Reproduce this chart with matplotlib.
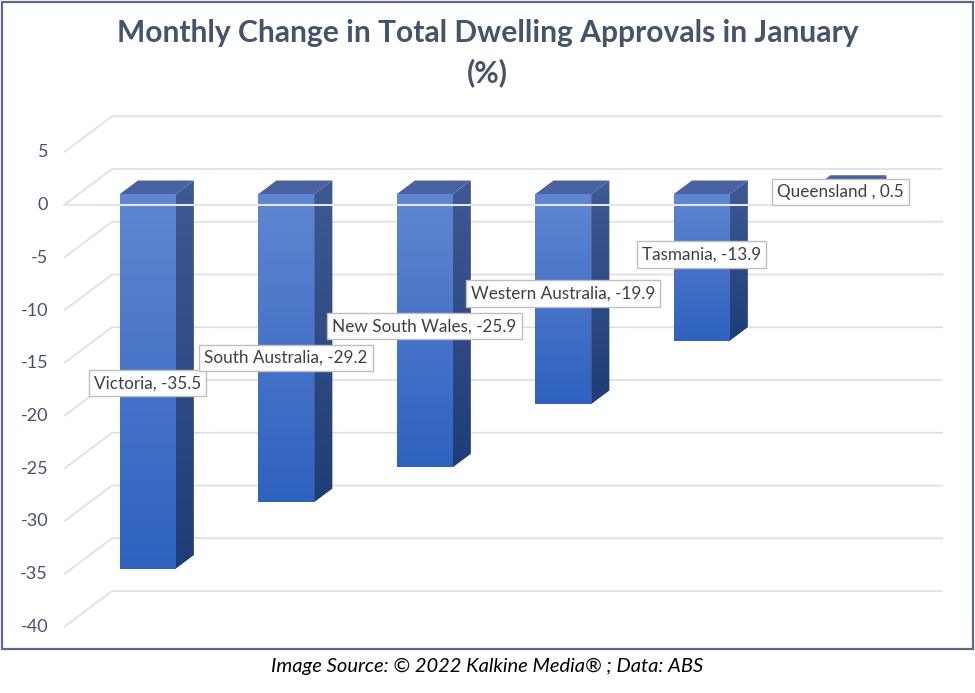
import numpy as np
import matplotlib
matplotlib.use("Agg")
import matplotlib.pyplot as plt
from matplotlib.patches import Polygon, Rectangle
from matplotlib.colors import LinearSegmentedColormap

plt.rcParams['font.family'] = ['Lato', 'DejaVu Sans']

states = ["Victoria", "South Australia", "New South Wales",
          "Western Australia", "Tasmania", "Queensland "]
change = [-35.5, -29.2, -25.9, -19.9, -13.9, 0.5]
yticks = list(range(-40, 6, 5))
label_y = [-16.9, -14.5, -11.5, -8.4, -4.7, 1.2]   # label box centres (manual placement)

W, H = 975, 693
px_cat, px_val = 138.5, 10.55        # pixels per category / per unit
x0_px, y0_px = 64, 205               # pixel position of category 0 / value 0
depth_x, depth_y = 48 / px_cat, 36 / px_val
f_front, f_back = 0.30, 0.68
bar_w = 0.404

fig = plt.figure(figsize=(W / 100, H / 100), dpi=100)
ax = fig.add_axes([0, 0, 1, 1])
ax.set_xlim(-x0_px / px_cat, (W - x0_px) / px_cat)
ax.set_ylim(-(H - y0_px) / px_val, y0_px / px_val)
ax.axis("off")

# gridlines: diagonal on the side wall then across the back wall
x_back_end = len(states) + depth_x
for t in yticks:
    ax.plot([0, depth_x, x_back_end], [t, t + depth_y, t + depth_y],
            color="#DCE0E8", lw=1.3, zorder=1, solid_capstyle="butt")
    ax.text(-0.115, t, str(t), ha="right", va="center", fontsize=13,
            color="#44546A")


def grad_fill(poly_xy, c_top, c_bot, z):
    poly = Polygon(poly_xy, closed=True, facecolor="none", edgecolor="none")
    ax.add_patch(poly)
    xs, ys = poly_xy[:, 0], poly_xy[:, 1]
    cmap = LinearSegmentedColormap.from_list("g", [c_bot, c_top])
    grad = np.linspace(1, 0, 64).reshape(-1, 1)
    im = ax.imshow(grad, cmap=cmap, aspect="auto", zorder=z,
                   extent=[xs.min(), xs.max(), ys.min(), ys.max()],
                   interpolation="bilinear", vmin=0, vmax=1)
    im.set_clip_path(poly)


ox1, oy1 = f_front * depth_x, f_front * depth_y
ddx, ddy = (f_back - f_front) * depth_x, (f_back - f_front) * depth_y
for i, v in enumerate(change):
    c = i + 0.5 + ox1
    xl, xr = c - bar_w / 2, c + bar_w / 2
    lo, hi = min(0, v) + oy1, max(0, v) + oy1
    front = np.array([[xl, lo], [xr, lo], [xr, hi], [xl, hi]])
    side = np.array([[xr, lo], [xr + ddx, lo + ddy], [xr + ddx, hi + ddy], [xr, hi]])
    top = np.array([[xl, hi], [xr, hi], [xr + ddx, hi + ddy], [xl + ddx, hi + ddy]])
    grad_fill(side, "#3E5A93", "#1F3D77", 3)
    ax.add_patch(Polygon(top, closed=True, facecolor="#4863A0",
                         edgecolor="none", zorder=3))
    grad_fill(front, "#5F86D2", "#2F62BF", 4)

# front zero line drawn over the bars
ax.plot([0, len(states)], [0, 0], color="#E3E6EC", lw=1.5, zorder=5)

for i, (s, v) in enumerate(zip(states, change)):
    ax.text(i + 0.5 + ox1, label_y[i], f"{s}, {v}", ha="center", va="center",
            fontsize=12.3, color="#404040", zorder=6,
            bbox=dict(boxstyle="square,pad=0.3", facecolor="white",
                      edgecolor="#BFBFBF", lw=1))

fig.text(0.5, 1 - 33 / H, "Monthly Change in Total Dwelling Approvals in January",
         ha="center", va="center", fontsize=21.6, fontweight="bold", color="#44546A")
fig.text(0.5, 1 - 73 / H, "(%)", ha="center", va="center", fontsize=21.6,
         fontweight="bold", color="#44546A")
fig.text(0.5, 1 - 666 / H, "Image Source: \u00a9 2022 Kalkine Media\u00ae ; Data: ABS",
         ha="center", va="center", fontsize=14.5, style="italic", color="#000000")

fig.patches.append(Rectangle((1.5 / W, 1 - 649 / H), 971.5 / W, 647 / H,
                             transform=fig.transFigure, facecolor="none",
                             edgecolor="#5B6A80", lw=1.6))

fig.savefig("out.png", dpi=100)
